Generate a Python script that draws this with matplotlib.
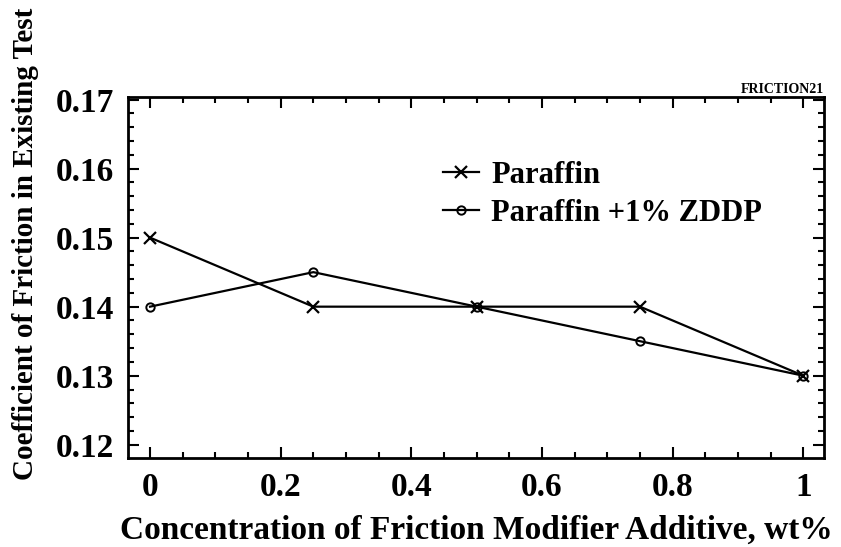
import matplotlib.pyplot as plt
from matplotlib.ticker import MultipleLocator

conc = [0, 0.25, 0.5, 0.75, 1.0]
paraffin = [0.150, 0.140, 0.140, 0.140, 0.130]
paraffin_zddp = [0.140, 0.145, 0.140, 0.135, 0.130]

plt.rcParams['font.family'] = ['Liberation Serif', 'DejaVu Serif']
plt.rcParams['font.weight'] = 'bold'

fig = plt.figure(figsize=(8.41, 5.47), dpi=100)
ax = fig.add_axes([0.152, 0.163, 0.828, 0.660])

ax.plot(conc, paraffin, color='k', lw=1.6, marker='x', ms=8, mew=1.6,
        label='Paraffin')
ax.plot(conc, paraffin_zddp, color='k', lw=1.6, marker='o', ms=6, mew=1.4,
        mfc='none', label='Paraffin +1% ZDDP')

ax.set_xlim(-0.034, 1.032)
ax.set_ylim(0.1181, 0.1704)
ax.xaxis.set_major_locator(MultipleLocator(0.2))
ax.xaxis.set_minor_locator(MultipleLocator(0.05))
ax.yaxis.set_major_locator(MultipleLocator(0.01))
ax.yaxis.set_minor_locator(MultipleLocator(0.002))
ax.set_xticks([0, 0.2, 0.4, 0.6, 0.8, 1.0])
ax.set_xticklabels(['0', '0.2', '0.4', '0.6', '0.8', '1'])
ax.tick_params(which='both', direction='in', top=True, right=True, width=1.5)
ax.tick_params(which='major', length=8, labelsize=24, pad=10)
ax.tick_params(which='minor', length=4)
for s in ax.spines.values():
    s.set_linewidth(2)

ax.set_xlabel('Concentration of Friction Modifier Additive, wt%', fontsize=24,
              fontweight='bold', labelpad=9)
ax.set_ylabel('Coefficient of Friction in Existing Test', fontsize=21,
              fontweight='bold')
ax.yaxis.set_label_coords(-0.128, 0.593)
ax.text(1.0, 1.003, 'FRICTION21', transform=ax.transAxes, ha='right', va='bottom',
        fontsize=10)

ax.legend(loc='upper left', bbox_to_anchor=(0.43, 0.865), frameon=False,
          fontsize=22, handlelength=1.2, handletextpad=0.4, labelspacing=0.3,
          borderpad=0)

fig.savefig('out.png', dpi=100)
